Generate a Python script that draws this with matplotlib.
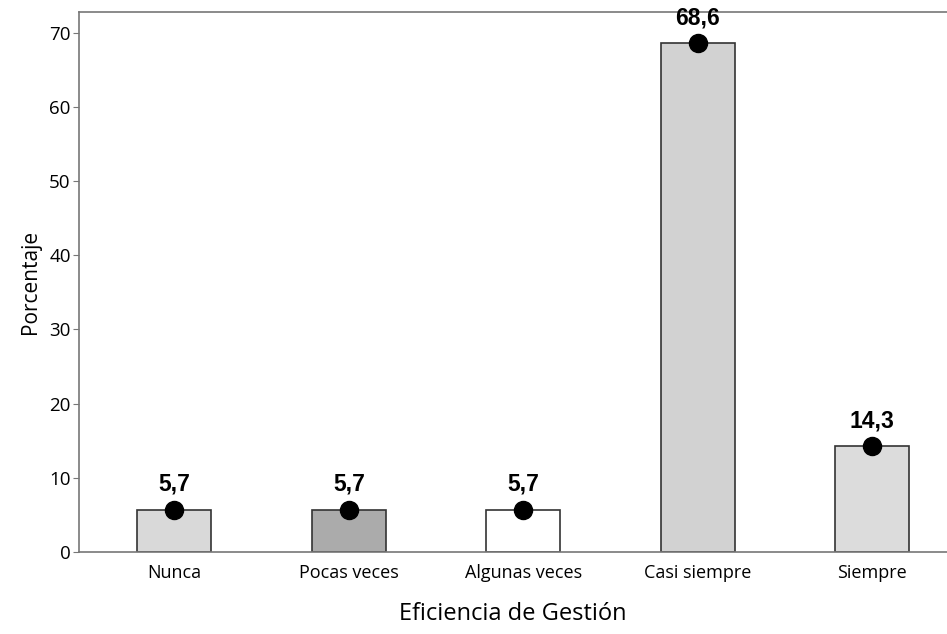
"""
Bar chart with point markers - Eficiencia de Gestión
"""

import matplotlib
matplotlib.use('Agg')
import matplotlib.pyplot as plt
import numpy as np

categories = ['Nunca', 'Pocas veces', 'Algunas veces', 'Casi siempre', 'Siempre']
percentages = [5.7, 5.7, 5.7, 68.6, 14.3]
value_labels = ['5,7', '5,7', '5,7', '68,6', '14,3']
bar_colors = ['#d9d9d9', '#ababab', '#ffffff', '#d2d2d2', '#dcdcdc']
y_ticks = [0, 10, 20, 30, 40, 50, 60, 70]


def main():
    plt.rcParams['font.family'] = ['Open Sans', 'DejaVu Sans']

    fig = plt.figure(figsize=(9.47, 6.34), dpi=100)
    ax = fig.add_axes([79 / 947, 82 / 634, 868 / 947, 540 / 634])

    x = np.arange(len(categories))
    ax.bar(x, percentages, width=0.425, color=bar_colors,
           edgecolor='#333333', linewidth=1.2, zorder=2)
    ax.plot(x, percentages, 'o', color='black', markersize=13, zorder=3)

    for xi, val, lab in zip(x, percentages, value_labels):
        ax.annotate(lab, (xi, val), xytext=(0, 10), textcoords='offset points',
                    ha='center', va='bottom', fontsize=16.5, fontweight='bold',
                    family=['Liberation Sans', 'DejaVu Sans'], zorder=4)

    ax.set_xlim(-0.547, 4.43)
    ax.set_ylim(0, 72.8)
    ax.set_xticks(x)
    ax.set_xticklabels(categories, fontsize=13)
    ax.set_yticks(y_ticks)
    ax.tick_params(axis='y', labelsize=13.5, length=4, color='#777777', pad=2)
    ax.tick_params(axis='x', length=0, pad=9)

    ax.set_ylabel('Porcentaje', fontsize=15, labelpad=6)
    ax.set_xlabel('Eficiencia de Gestión', fontsize=17, labelpad=14)

    for side in ['left', 'bottom', 'top']:
        ax.spines[side].set_color('#777777')
        ax.spines[side].set_linewidth(1.2)
    ax.spines['right'].set_visible(False)

    fig.savefig('out.png', dpi=100)


if __name__ == "__main__":
    main()
